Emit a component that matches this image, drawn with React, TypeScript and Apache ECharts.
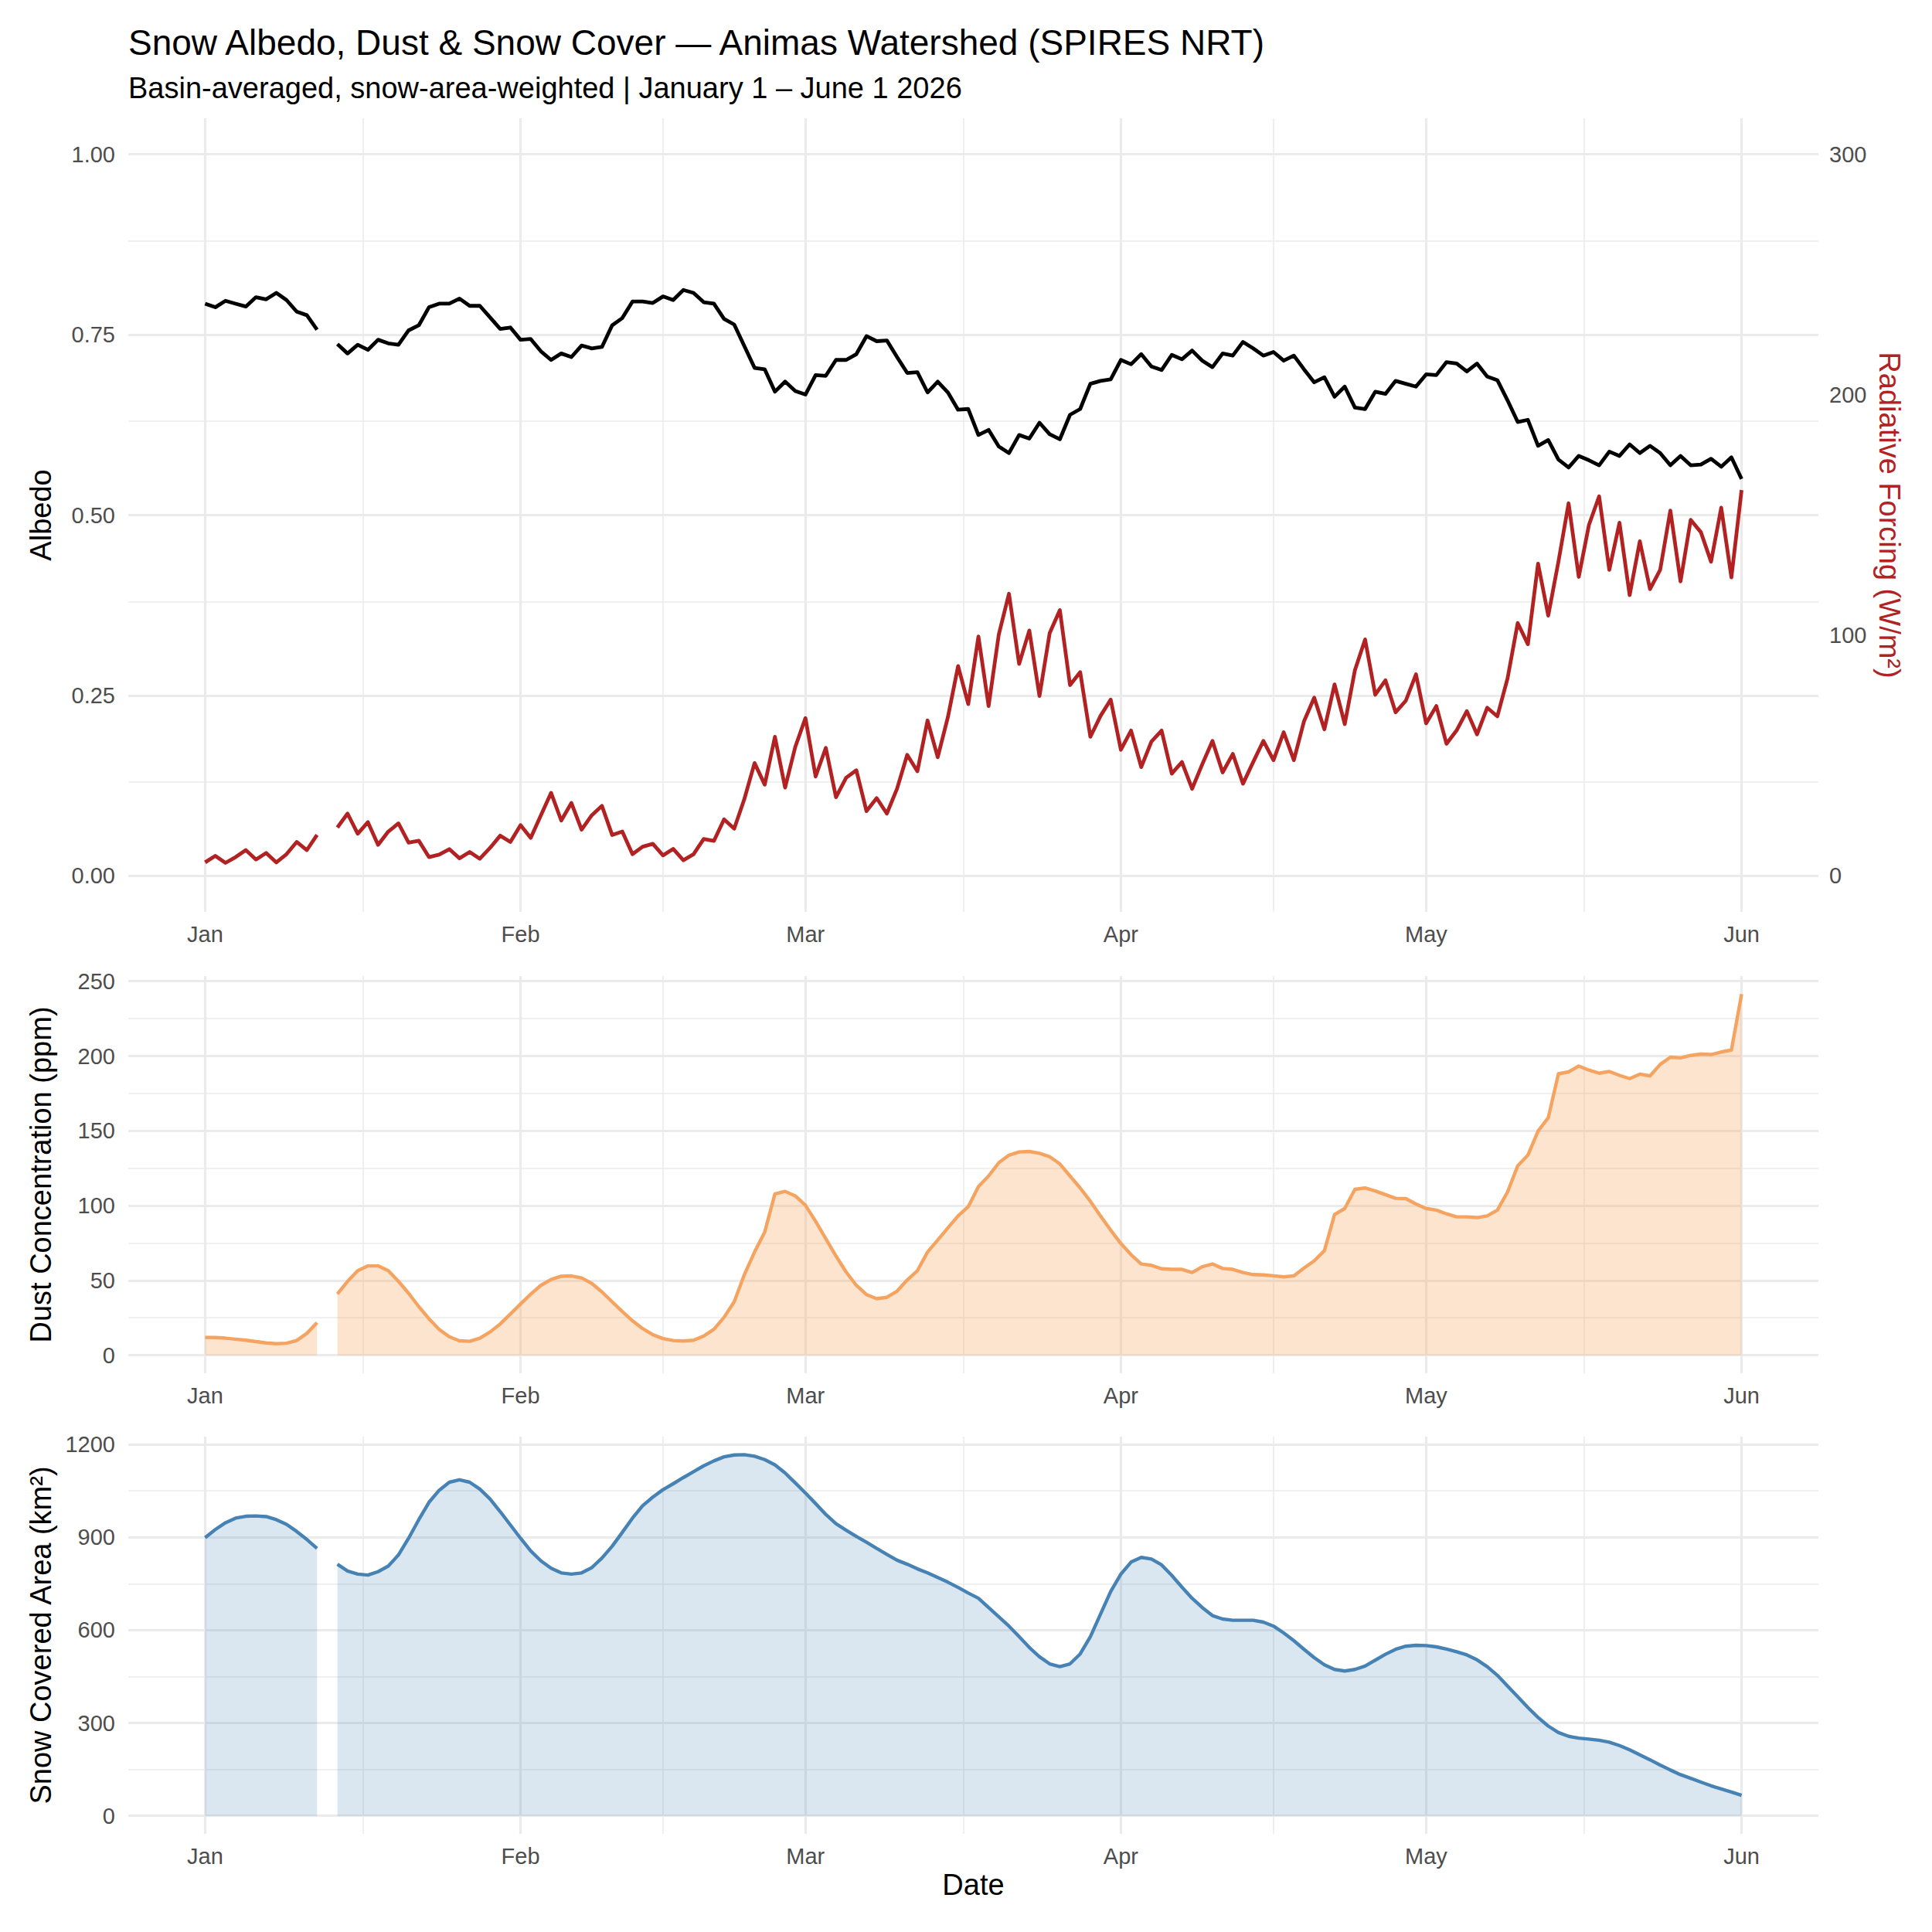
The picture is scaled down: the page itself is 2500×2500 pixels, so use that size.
import React, { useEffect, useRef } from "react";
import * as echarts from "echarts";

const TITLE = "Snow Albedo, Dust & Snow Cover \u2014 Animas Watershed (SPIRES NRT)";
const SUBTITLE = "Basin-averaged, snow-area-weighted | January 1 \u2013 June 1 2026";

// x axis: days since 2026-01-01
const MONTH_LABELS = ["Jan", "Feb", "Mar", "Apr", "May", "Jun"];
const MONTH_START_DAYS = [0, 31, 59, 90, 120, 151];

const ALBEDO_TICKS = [0, 0.25, 0.5, 0.75, 1];
const RF_TICKS = [0, 100, 200, 300];
const DUST_TICKS = [0, 50, 100, 150, 200, 250];
const SCA_TICKS = [0, 300, 600, 900, 1200];

// daily values, Jan 1 .. Jun 1 (Jan 13 missing)
const ALBEDO = [
  0.793, 0.788, 0.797, 0.793, 0.789, 0.802, 0.799, 0.808, 0.798, 0.782, 0.777, 0.757, null,
  0.737, 0.724, 0.736, 0.729, 0.743, 0.738, 0.736, 0.756, 0.763, 0.788, 0.793, 0.793, 0.8,
  0.79, 0.79, 0.774, 0.758, 0.76, 0.743, 0.744, 0.727, 0.715, 0.724, 0.719, 0.735, 0.731,
  0.733, 0.763, 0.773, 0.796, 0.796, 0.794, 0.803, 0.798, 0.812, 0.808, 0.795, 0.793, 0.772,
  0.764, 0.734, 0.704, 0.702, 0.671, 0.685, 0.672, 0.667, 0.694, 0.693, 0.715, 0.715, 0.723,
  0.748, 0.741, 0.742, 0.719, 0.697, 0.698, 0.67, 0.685, 0.67, 0.646, 0.647, 0.611, 0.618,
  0.595, 0.586, 0.611, 0.606, 0.628, 0.612, 0.605, 0.639, 0.647, 0.682, 0.686, 0.688, 0.715,
  0.709, 0.723, 0.706, 0.701, 0.722, 0.716, 0.728, 0.714, 0.705, 0.724, 0.721, 0.74, 0.731,
  0.721, 0.726, 0.714, 0.721, 0.702, 0.684, 0.691, 0.664, 0.678, 0.649, 0.647, 0.671, 0.668,
  0.686, 0.682, 0.678, 0.695, 0.694, 0.712, 0.71, 0.699, 0.71, 0.692, 0.687, 0.659, 0.629,
  0.632, 0.596, 0.604, 0.577, 0.566, 0.582, 0.576, 0.569, 0.588, 0.582, 0.598, 0.586, 0.596,
  0.586, 0.569, 0.582, 0.569, 0.57, 0.578, 0.567, 0.58, 0.55,
];

const RADIATIVE_FORCING = [
  5.6, 8.3, 5.4, 7.8, 10.7, 6.8, 9.5, 5.6, 9.0, 14.1, 10.7, 17.0, null,
  20.1, 25.9, 17.5, 22.3, 12.9, 18.4, 21.8, 13.8, 14.6, 7.8, 8.8, 11.1, 7.3,
  9.9, 7.1, 11.6, 16.7, 14.1, 21.1, 15.8, 25.2, 34.5, 23.0, 30.3, 19.2, 25.2,
  29.1, 17.0, 18.4, 9.0, 12.1, 13.3, 8.5, 11.2, 6.5, 9.0, 15.3, 14.5, 23.5,
  19.6, 32.0, 46.9, 37.9, 57.8, 36.7, 53.6, 65.6, 41.3, 53.2, 32.7, 40.8, 43.9,
  26.9, 32.3, 25.9, 36.2, 50.3, 43.5, 64.6, 49.3, 66.0, 87.2, 71.4, 99.5, 70.6,
  100.3, 117.3, 88.1, 102.0, 74.8, 100.9, 110.5, 79.3, 84.7, 57.8, 66.5, 73.3, 52.4,
  60.4, 45.2, 55.8, 60.4, 42.5, 47.3, 36.2, 46.4, 56.1, 43.0, 50.7, 38.3, 47.3,
  56.1, 48.1, 59.7, 48.1, 64.3, 74.1, 60.9, 79.6, 63.1, 85.5, 98.3, 75.3, 81.3,
  68.0, 72.8, 83.8, 63.4, 70.6, 54.9, 60.5, 68.5, 58.8, 69.9, 66.3, 82.1, 105.1,
  96.3, 129.8, 108.2, 130.6, 154.9, 124.3, 145.9, 157.8, 127.2, 146.8, 116.7, 139.1, 119.2,
  127.2, 151.9, 122.4, 148.0, 142.9, 130.6, 153.1, 124.1, 160.4,
];

const DUST = [
  11.9, 11.8, 11.4, 10.7, 10.0, 9.1, 8.2, 7.7, 8.0, 9.8, 14.6, 21.8, null,
  41.0, 49.4, 56.5, 59.7, 59.7, 56.5, 49.4, 41.4, 32.5, 24.4, 17.3, 12.3, 9.6,
  9.3, 11.4, 15.5, 20.9, 27.5, 34.2, 40.8, 46.7, 50.6, 52.8, 53.0, 51.7, 48.0,
  42.3, 35.7, 29.2, 23.0, 17.8, 13.7, 11.1, 9.8, 9.5, 10.0, 12.8, 17.3, 25.3,
  35.7, 53.9, 69.0, 82.4, 107.9, 109.5, 106.5, 100.2, 89.5, 77.9, 66.3, 55.6, 46.7,
  40.5, 37.8, 38.7, 42.8, 50.3, 56.5, 69.0, 77.0, 85.1, 93.1, 99.3, 112.7, 119.8,
  128.7, 133.7, 135.9, 136.2, 135.0, 132.7, 127.9, 119.8, 111.8, 102.9, 93.1, 83.6, 74.7,
  67.2, 61.0, 60.1, 57.8, 57.4, 57.4, 55.3, 59.2, 61.0, 58.0, 57.4, 55.3, 53.9,
  53.7, 53.1, 52.4, 53.0, 58.3, 63.1, 69.9, 94.0, 98.1, 110.9, 111.8, 109.8, 107.3,
  104.9, 104.7, 101.1, 98.1, 97.0, 94.5, 92.5, 92.5, 92.0, 93.1, 97.0, 109.1, 126.6,
  133.7, 149.8, 158.7, 188.1, 189.4, 193.3, 190.6, 188.5, 189.7, 187.1, 184.9, 187.9, 186.7,
  194.4, 199.2, 198.8, 200.4, 201.3, 201.0, 202.7, 204.0, 241.4,
];

const SNOW_AREA = [
  899, 925, 947, 962, 968, 969, 967, 957, 942, 919, 893, 864, null,
  813, 791, 781, 778, 789, 807, 843, 897, 957, 1013, 1052, 1078, 1086,
  1078, 1056, 1024, 983, 940, 897, 856, 824, 800, 785, 781, 785, 802,
  833, 871, 916, 962, 1002, 1030, 1054, 1073, 1093, 1112, 1131, 1147, 1160,
  1166, 1167, 1162, 1151, 1134, 1108, 1076, 1043, 1009, 974, 944, 923, 903,
  884, 864, 845, 826, 813, 798, 785, 770, 755, 738, 720, 703, 673,
  643, 613, 579, 544, 514, 491, 482, 491, 523, 579, 652, 725, 781,
  820, 835, 830, 811, 777, 739, 703, 673, 647, 636, 632, 632, 632,
  626, 613, 591, 566, 538, 511, 488, 473, 468, 473, 484, 503, 522,
  538, 548, 551, 550, 546, 539, 530, 520, 504, 482, 454, 419, 385,
  350, 318, 290, 269, 257, 251, 248, 244, 238, 227, 213, 197, 181,
  164, 148, 133, 121, 109, 97, 87, 77, 66,
];

const FONT = "Liberation Sans";
const GRID_COLOR = "#EBEBEB";
const TICK_COLOR = "#4D4D4D";
const NAME_SIZE = 38;

const lastDay = ALBEDO.length - 1;
const X_PAD = lastDay * 0.05;

const midpoints = (ticks: number[]) => ticks.slice(1).map((t, i) => (t + ticks[i]) / 2);

function gridLineSeries(xi: number, yi: number, yMajor: number[]) {
  const major = { color: GRID_COLOR, width: 3.2, type: "solid" };
  const minor = { color: GRID_COLOR, width: 1.6, type: "solid" };
  const data = [
    ...midpoints(yMajor).map((v) => ({ yAxis: v, lineStyle: minor })),
    ...midpoints(MONTH_START_DAYS).map((v) => ({ xAxis: v, lineStyle: minor })),
    ...yMajor.map((v) => ({ yAxis: v, lineStyle: major })),
    ...MONTH_START_DAYS.map((v) => ({ xAxis: v, lineStyle: major })),
  ];
  return {
    type: "line",
    xAxisIndex: xi,
    yAxisIndex: yi,
    data: [],
    z: 1,
    silent: true,
    markLine: {
      z: 1,
      silent: true,
      symbol: "none",
      animation: false,
      label: { show: false },
      emphasis: { disabled: true },
      data,
    },
  };
}

function xAxisFor(gridIndex: number, withName: boolean) {
  return {
    type: "value",
    gridIndex,
    min: -X_PAD,
    max: lastDay + X_PAD,
    axisLine: { show: false },
    axisTick: { show: false },
    splitLine: { show: false },
    axisLabel: {
      customValues: MONTH_START_DAYS,
      formatter: (v: number) => MONTH_LABELS[MONTH_START_DAYS.indexOf(Math.round(v))] ?? "",
      fontFamily: FONT,
      fontSize: 29,
      color: TICK_COLOR,
      margin: 14,
    },
    name: withName ? "Date" : "",
    nameLocation: "middle",
    nameGap: 47,
    nameTextStyle: { fontFamily: FONT, fontSize: NAME_SIZE, color: "#000" },
  };
}

function yAxisFor(
  gridIndex: number,
  min: number,
  max: number,
  ticks: number[],
  fmt: (v: number) => string,
  name: string,
) {
  return {
    type: "value",
    gridIndex,
    min,
    max,
    axisLine: { show: false },
    axisTick: { show: false },
    splitLine: { show: false },
    axisLabel: {
      customValues: ticks,
      formatter: fmt,
      fontFamily: FONT,
      fontSize: 29,
      color: TICK_COLOR,
      margin: 17,
    },
    name,
    nameLocation: "middle",
    nameGap: 94,
    nameRotate: 90,
    nameTextStyle: { fontFamily: FONT, fontSize: NAME_SIZE, color: "#000" },
  };
}

const toPoints = (values: (number | null)[]) => values.map((v, i) => [i, v]);

export default function App() {
  const chartRef = useRef<HTMLDivElement | null>(null);

  useEffect(() => {
    document.body.style.margin = "0";
    if (!chartRef.current) return;
    const chart = echarts.init(chartRef.current, null, { renderer: "svg" });

    const dustMax = Math.max(...(DUST.filter((v) => v != null) as number[]));
    const scaMax = Math.max(...(SNOW_AREA.filter((v) => v != null) as number[]));
    const rfScale = 300; // secondary axis: RF = albedo scale * 300

    const option = {
      animation: false,
      backgroundColor: "#FFFFFF",
      textStyle: { fontFamily: FONT },
      title: [
        {
          text: TITLE,
          left: 166,
          top: 32,
          padding: 0,
          textStyle: { fontFamily: FONT, fontSize: 46, fontWeight: "normal", color: "#000" },
        },
        {
          text: SUBTITLE,
          left: 166,
          top: 95,
          padding: 0,
          textStyle: { fontFamily: FONT, fontSize: 38, fontWeight: "normal", color: "#000" },
        },
      ],
      grid: [
        { left: 166, right: 147, top: 153, height: 1027, outerBoundsMode: "none" },
        { left: 166, right: 147, top: 1263, height: 514, outerBoundsMode: "none" },
        { left: 166, right: 147, top: 1859, height: 514, outerBoundsMode: "none" },
      ],
      xAxis: [xAxisFor(0, false), xAxisFor(1, false), xAxisFor(2, true)],
      yAxis: [
        yAxisFor(0, -0.05, 1.05, ALBEDO_TICKS, (v) => v.toFixed(2), "Albedo"),
        {
          ...yAxisFor(0, -0.05 * rfScale, 1.05 * rfScale, RF_TICKS, (v) => String(Math.round(v)), "Radiative Forcing (W/m\u00B2)"),
          position: "right",
          axisLabel: {
            customValues: RF_TICKS,
            formatter: (v: number) => String(Math.round(v)),
            fontFamily: FONT,
            fontSize: 29,
            color: TICK_COLOR,
            margin: 14,
          },
          nameRotate: -90,
          nameGap: 73,
          nameTextStyle: { fontFamily: FONT, fontSize: NAME_SIZE, color: "#B22222" },
        },
        yAxisFor(1, -0.05 * dustMax, 1.05 * dustMax, DUST_TICKS, (v) => String(Math.round(v)), "Dust Concentration (ppm)"),
        yAxisFor(2, -0.05 * scaMax, 1.05 * scaMax, SCA_TICKS, (v) => String(Math.round(v)), "Snow Covered Area (km\u00B2)"),
      ],
      series: [
        gridLineSeries(0, 0, ALBEDO_TICKS),
        gridLineSeries(1, 2, DUST_TICKS),
        gridLineSeries(2, 3, SCA_TICKS),
        {
          name: "Radiative Forcing",
          type: "line",
          xAxisIndex: 0,
          yAxisIndex: 1,
          data: toPoints(RADIATIVE_FORCING),
          showSymbol: false,
          symbol: "none",
          connectNulls: false,
          z: 3,
          lineStyle: { color: "#B22222", width: 4.8, join: "round" },
        },
        {
          name: "Albedo",
          type: "line",
          xAxisIndex: 0,
          yAxisIndex: 0,
          data: toPoints(ALBEDO),
          showSymbol: false,
          symbol: "none",
          connectNulls: false,
          z: 3,
          lineStyle: { color: "#000000", width: 4.8, join: "round" },
        },
        {
          name: "Dust",
          type: "line",
          xAxisIndex: 1,
          yAxisIndex: 2,
          data: toPoints(DUST),
          showSymbol: false,
          symbol: "none",
          connectNulls: false,
          z: 3,
          lineStyle: { color: "#F4A460", width: 4.4, join: "round" },
          areaStyle: { color: "#F4A460", opacity: 0.3 },
        },
        {
          name: "Snow Covered Area",
          type: "line",
          xAxisIndex: 2,
          yAxisIndex: 3,
          data: toPoints(SNOW_AREA),
          showSymbol: false,
          symbol: "none",
          connectNulls: false,
          z: 3,
          lineStyle: { color: "#4682B4", width: 4.4, join: "round" },
          areaStyle: { color: "#4682B4", opacity: 0.2 },
        },
      ],
    };

    chart.setOption(option as any);
    return () => {
      chart.dispose();
    };
  }, []);

  return <div ref={chartRef} style={{ width: 2500, height: 2500 }} />;
}
